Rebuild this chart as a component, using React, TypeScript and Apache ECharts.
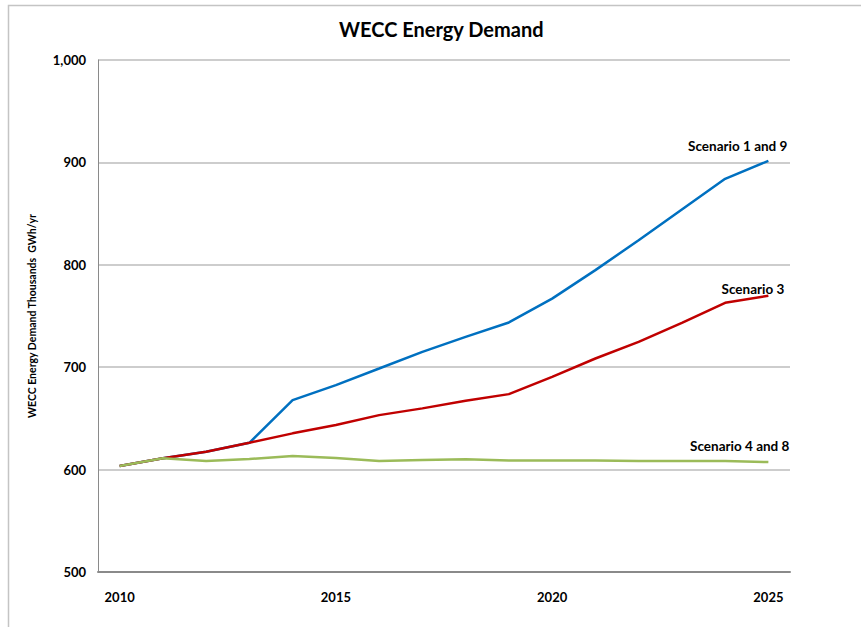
import React, { useEffect, useRef } from "react";
import * as echarts from "echarts";

const years = ["2010","2011","2012","2013","2014","2015","2016","2017","2018","2019","2020","2021","2022","2023","2024","2025"];
const scenario19 = [603.5, 611, 617.4, 626.2, 667.9, 682.5, 698.7, 715, 729.6, 743.7, 767, 794.8, 824, 854, 884, 901.5];
const scenario3 = [603.5, 611, 617.4, 626.2, 635.4, 643.5, 653.2, 659.8, 667.2, 673.7, 690.6, 708.5, 724.8, 743.3, 762.9, 769.7];
const scenario48 = [603.5, 611, 608.3, 610.3, 613.2, 611.3, 608.3, 609.3, 610, 609, 609, 609, 608.3, 608.3, 608.3, 607.4];
const seriesNames = ["Scenario 1 and 9", "Scenario 3", "Scenario 4 and 8"];
const yTicks = { min: 500, max: 1000, interval: 100 };

const FONT = "Lato, 'Liberation Sans', sans-serif";

export default function App() {
  const ref = useRef<HTMLDivElement>(null);
  useEffect(() => {
    if (!ref.current) return;
    const chart = echarts.init(ref.current, null, { renderer: "svg" });
    const endLabel = (offset: number[]) => ({
      show: true,
      formatter: "{a}",
      fontFamily: FONT,
      fontWeight: "bold",
      fontSize: 13.5,
      color: "#000",
      align: "right",
      verticalAlign: "middle",
      offset,
    });
    chart.setOption({
      animation: false,
      backgroundColor: "#fff",
      textStyle: { fontFamily: FONT },
      title: {
        text: "WECC Energy Demand",
        left: 334,
        top: 14,
        textStyle: { fontFamily: FONT, fontWeight: "bold", fontSize: 20, color: "#000" },
      },
      graphic: [
        {
          type: "rect",
          shape: { x: 8.5, y: 5.5, width: 1000, height: 1000 },
          style: { fill: "none", stroke: "#c4c4c4", lineWidth: 1.5 },
          silent: true,
        },
      ],
      grid: { left: 98, right: 71, top: 60, bottom: 55, containLabel: false },
      xAxis: {
        type: "category",
        data: years,
        boundaryGap: true,
        axisLine: { show: true, lineStyle: { color: "#8a8a8a", width: 2 } },
        axisTick: { show: false },
        axisLabel: {
          interval: (i: number) => i % 5 === 0,
          fontFamily: FONT,
          fontWeight: "bold",
          fontSize: 13,
          color: "#000",
          margin: 18,
        },
        splitLine: { show: false },
      },
      yAxis: {
        type: "value",
        min: yTicks.min,
        max: yTicks.max,
        interval: yTicks.interval,
        name: "WECC Energy Demand Thousands  GWh/yr",
        nameLocation: "middle",
        nameGap: 61,
        nameTextStyle: { fontFamily: FONT, fontWeight: "bold", fontSize: 10.5, color: "#000" },
        axisLine: { show: true, lineStyle: { color: "#8a8a8a", width: 1 } },
        axisTick: { show: false },
        axisLabel: {
          fontFamily: FONT,
          fontWeight: "bold",
          fontSize: 13,
          color: "#000",
          margin: 12,
          formatter: (v: number) => v.toLocaleString("en-US"),
        },
        splitLine: { show: true, lineStyle: { color: "#bdbdbd", width: 1.5 } },
      },
      series: [
        {
          name: seriesNames[0],
          type: "line",
          data: scenario19,
          showSymbol: false,
          lineStyle: { color: "#0070C0", width: 2.5 },
          itemStyle: { color: "#0070C0" },
          endLabel: endLabel([11, -15]),
          z: 2,
        },
        {
          name: seriesNames[1],
          type: "line",
          data: scenario3,
          showSymbol: false,
          lineStyle: { color: "#C00000", width: 2.5 },
          itemStyle: { color: "#C00000" },
          endLabel: endLabel([8, -7]),
          z: 3,
        },
        {
          name: seriesNames[2],
          type: "line",
          data: scenario48,
          showSymbol: false,
          lineStyle: { color: "#9BBB59", width: 2.5 },
          itemStyle: { color: "#9BBB59" },
          endLabel: endLabel([13, -16]),
          z: 4,
        },
      ],
    });
    return () => chart.dispose();
  }, []);
  return (
    <div
      ref={ref}
      style={{ position: "absolute", left: 0, top: 0, width: 861, height: 627 }}
    />
  );
}
